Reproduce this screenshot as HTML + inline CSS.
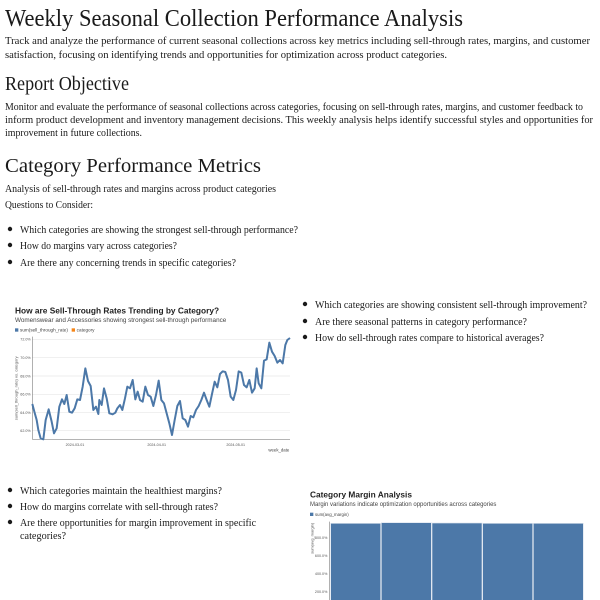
<!DOCTYPE html>
<html><head><meta charset="utf-8"><style>
body{margin:0;width:600px;height:600px;overflow:hidden;background:#fff;position:relative}
</style></head><body>
<svg style="position:absolute;left:0;top:0" width="600" height="600" font-family="Liberation Serif, DejaVu Serif, serif" fill="#1a1a1a" lengthAdjust="spacingAndGlyphs">
<text x="5" y="26" font-size="24" textLength="458" lengthAdjust="spacingAndGlyphs">Weekly Seasonal Collection Performance Analysis</text>
<g font-size="11">
<text x="5" y="44" textLength="585" lengthAdjust="spacingAndGlyphs">Track and analyze the performance of current seasonal collections across key metrics including sell-through rates, margins, and customer</text>
<text x="5" y="58" textLength="442" lengthAdjust="spacingAndGlyphs">satisfaction, focusing on identifying trends and opportunities for optimization across product categories.</text>
<text x="5" y="110" textLength="578" lengthAdjust="spacingAndGlyphs">Monitor and evaluate the performance of seasonal collections across categories, focusing on sell-through rates, margins, and customer feedback to</text>
<text x="5" y="123" textLength="588" lengthAdjust="spacingAndGlyphs">inform product development and inventory management decisions. This weekly analysis helps identify successful styles and opportunities for</text>
<text x="5" y="136" textLength="137" lengthAdjust="spacingAndGlyphs">improvement in future collections.</text>
<text x="5" y="192" textLength="271" lengthAdjust="spacingAndGlyphs">Analysis of sell-through rates and margins across product categories</text>
<text x="5" y="208" textLength="88" lengthAdjust="spacingAndGlyphs">Questions to Consider:</text>
<text x="20" y="233" textLength="278" lengthAdjust="spacingAndGlyphs">Which categories are showing the strongest sell-through performance?</text>
<text x="20" y="249" textLength="157" lengthAdjust="spacingAndGlyphs">How do margins vary across categories?</text>
<text x="20" y="266" textLength="216" lengthAdjust="spacingAndGlyphs">Are there any concerning trends in specific categories?</text>
<text x="315" y="308" textLength="272" lengthAdjust="spacingAndGlyphs">Which categories are showing consistent sell-through improvement?</text>
<text x="315" y="325" textLength="212" lengthAdjust="spacingAndGlyphs">Are there seasonal patterns in category performance?</text>
<text x="315" y="341" textLength="229" lengthAdjust="spacingAndGlyphs">How do sell-through rates compare to historical averages?</text>
<text x="20" y="494" textLength="202" lengthAdjust="spacingAndGlyphs">Which categories maintain the healthiest margins?</text>
<text x="20" y="510" textLength="198" lengthAdjust="spacingAndGlyphs">How do margins correlate with sell-through rates?</text>
<text x="20" y="526" textLength="236" lengthAdjust="spacingAndGlyphs">Are there opportunities for margin improvement in specific</text>
<text x="20" y="539" textLength="46" lengthAdjust="spacingAndGlyphs">categories?</text>
</g>
<g font-size="20">
<text x="5" y="90" textLength="124" lengthAdjust="spacingAndGlyphs">Report Objective</text>
<text x="5" y="172" textLength="256" lengthAdjust="spacingAndGlyphs">Category Performance Metrics</text>
</g>
<g>
<circle cx="10" cy="229" r="2.2"/><circle cx="10" cy="245" r="2.2"/><circle cx="10" cy="262" r="2.2"/>
<circle cx="305" cy="304" r="2.2"/><circle cx="305" cy="321" r="2.2"/><circle cx="305" cy="337" r="2.2"/>
<circle cx="10" cy="490" r="2.2"/><circle cx="10" cy="506" r="2.2"/><circle cx="10" cy="522" r="2.2"/>
</g>
</svg>

<svg style="position:absolute;left:0;top:300px" width="300" height="160" viewBox="0 0 900 480" font-family="Liberation Sans, sans-serif">
<text x="45" y="40" font-size="25" font-weight="bold" fill="#222">How are Sell-Through Rates Trending by Category?</text>
<text x="45" y="66" font-size="19" fill="#444">Womenswear and Accessories showing strongest sell-through performance</text>
<rect x="45" y="85" width="10" height="10" fill="#4c78a8"/><text x="60" y="95" font-size="14" fill="#444">sum(sell_through_rate)</text>
<rect x="215" y="85" width="10" height="10" fill="#f58518"/><text x="230" y="95" font-size="14" fill="#444">category</text>
<g stroke="#e6e6e6" stroke-width="2">
<line x1="97" y1="118" x2="870" y2="118"/><line x1="97" y1="173" x2="870" y2="173"/><line x1="97" y1="228" x2="870" y2="228"/><line x1="97" y1="283" x2="870" y2="283"/><line x1="97" y1="338" x2="870" y2="338"/><line x1="97" y1="392" x2="870" y2="392"/></g>
<line x1="97" y1="110" x2="97" y2="418" stroke="#888" stroke-width="2"/>
<line x1="97" y1="418" x2="870" y2="418" stroke="#888" stroke-width="2"/>
<g font-size="11" fill="#555" text-anchor="end">
<text x="92" y="122">72.0%</text><text x="92" y="177">70.0%</text><text x="92" y="232">68.0%</text><text x="92" y="287">66.0%</text><text x="92" y="342">64.0%</text><text x="92" y="396">62.0%</text></g>
<text transform="translate(52,265) rotate(-90)" font-size="12" fill="#555" text-anchor="middle">sum(sell_through_rate) vs. category</text>
<g font-size="11" fill="#555" text-anchor="middle"><text x="225" y="438">2024-03-01</text><text x="470" y="438">2024-04-01</text><text x="707" y="438">2024-05-01</text></g>
<text x="868" y="455" font-size="13" fill="#444" text-anchor="end">week_date</text>
<polyline fill="none" stroke="#4c78a8" stroke-width="6" stroke-linejoin="round" points="97,312 103,335 110,360 115,390 122,415 130,418 137,360 146,328 155,365 162,400 170,385 178,320 186,298 193,312 200,285 208,335 216,338 224,325 232,298 240,300 248,260 256,205 264,243 272,258 280,330 288,320 295,342 298,300 305,315 312,265 320,295 328,340 338,343 346,338 352,325 360,315 367,330 375,295 382,260 390,265 398,240 406,298 413,275 420,300 428,305 436,260 444,285 452,290 460,318 468,285 476,242 484,300 492,310 500,340 508,370 516,405 524,360 532,318 540,303 548,355 556,360 564,380 572,348 580,352 588,330 596,318 604,300 612,278 620,300 628,320 636,282 644,245 652,262 660,222 668,214 676,216 684,240 692,290 700,300 708,270 716,214 724,218 732,255 740,262 748,240 756,278 764,265 770,205 776,250 784,265 792,182 800,178 808,128 816,155 824,168 832,188 840,180 848,190 856,135 862,120 870,114"/>
</svg>

<svg style="position:absolute;left:300px;top:480px" width="300" height="120" viewBox="0 0 900 360" font-family="Liberation Sans, sans-serif">
<text x="30" y="52" font-size="25" font-weight="bold" fill="#222">Category Margin Analysis</text>
<text x="30" y="78" font-size="18" fill="#444">Margin variations indicate optimization opportunities across categories</text>
<rect x="30" y="98" width="10" height="10" fill="#4c78a8"/><text x="45" y="108" font-size="13" fill="#444">sum(avg_margin)</text>
<line x1="88" y1="125" x2="88" y2="360" stroke="#888" stroke-width="2"/>
<g font-size="11" fill="#555" text-anchor="end"><text x="82" y="177">800.0%</text><text x="82" y="231">600.0%</text><text x="82" y="285">400.0%</text><text x="82" y="339">200.0%</text></g>
<text transform="translate(40,175) rotate(-90)" font-size="12" fill="#555" text-anchor="middle">sum(avg_margin)</text>
<g fill="#4c78a8" stroke="#dde4ee" stroke-width="2">
<rect x="92" y="130" width="150" height="240"/><rect x="244" y="128" width="150" height="242"/><rect x="396" y="129" width="150" height="241"/><rect x="548" y="130" width="150" height="240"/><rect x="700" y="130" width="150" height="240"/></g>
</svg>
</body></html>
